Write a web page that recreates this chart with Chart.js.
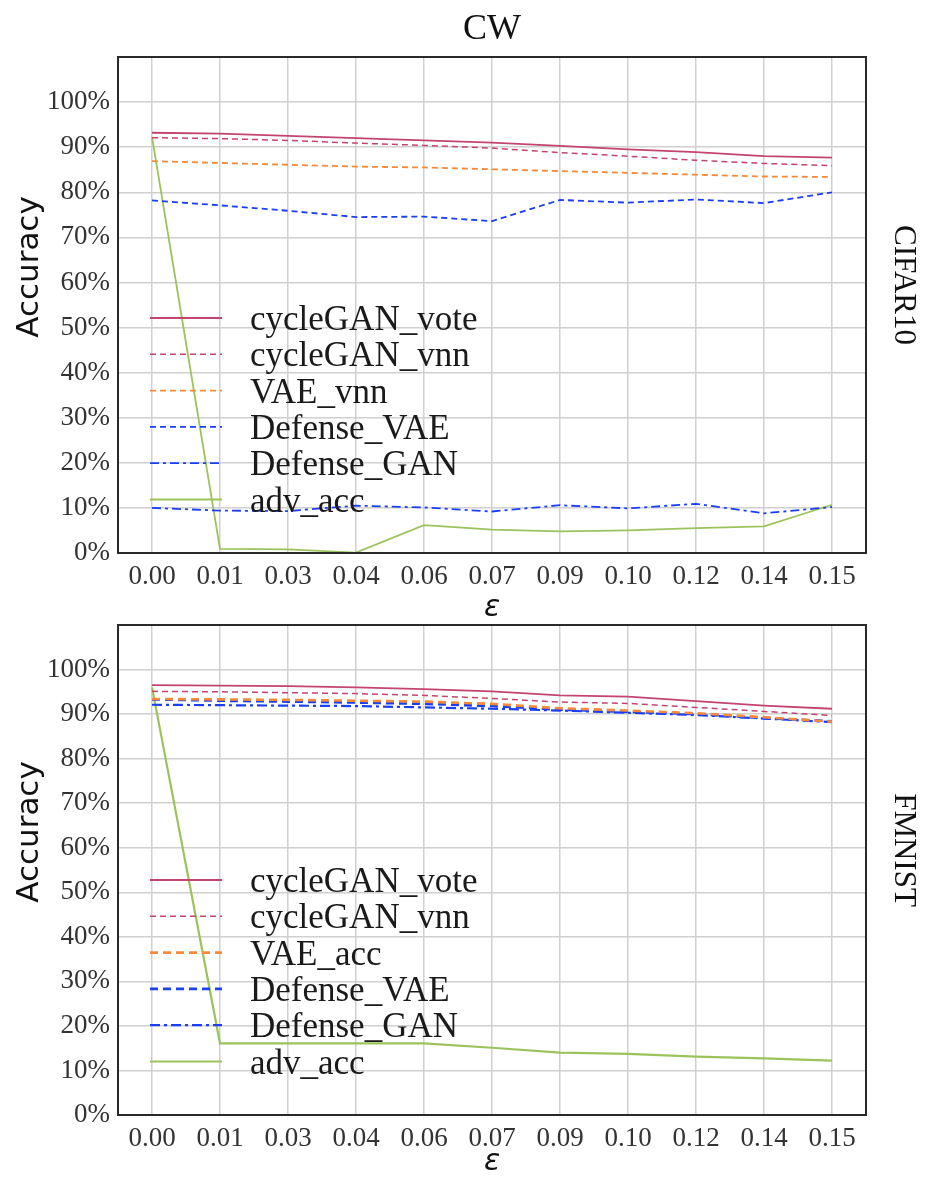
<!DOCTYPE html>
<html>
<head>
<meta charset="utf-8">
<script src="https://cdn.jsdelivr.net/npm/chart.js@4"></script>
<style>
html,body{margin:0;padding:0;background:#fff;}
#wrap{position:relative;width:925px;height:1182px;}
canvas{position:absolute;left:0;}
</style>
</head>
<body>
<div id="wrap">
<canvas id="c1" width="925" height="620" style="top:0px"></canvas>
<canvas id="c2" width="925" height="574" style="top:600px"></canvas>
</div>
<script>
const epsLabels = ['0.00','0.01','0.03','0.04','0.06','0.07','0.09','0.10','0.12','0.14','0.15'];
const yTickMax = 100;

// CIFAR10 (CW)
const cifarVote   = [93.2, 93.0, 92.5, 92.0, 91.5, 91.0, 90.3, 89.5, 88.9, 88.0, 87.7];
const cifarVnn    = [92.1, 91.9, 91.5, 90.9, 90.4, 89.8, 88.8, 88.0, 87.1, 86.4, 85.9];
const cifarVAE    = [86.9, 86.5, 86.1, 85.7, 85.5, 85.1, 84.7, 84.3, 83.9, 83.5, 83.4];
const cifarDefVAE = [78.2, 77.1, 75.9, 74.5, 74.6, 73.6, 78.3, 77.7, 78.4, 77.6, 80.0];
const cifarDefGAN = [10.0, 9.4, 9.3, 10.5, 10.1, 9.2, 10.6, 9.9, 10.9, 8.8, 10.2];
const cifarAdv    = [92.3, 0.9, 0.8, 0.1, 6.2, 5.2, 4.8, 5.0, 5.5, 5.9, 10.7];

// FMNIST (CW)
const fmVote   = [96.5, 96.4, 96.3, 96.0, 95.6, 95.1, 94.2, 93.9, 92.9, 91.9, 91.2];
const fmVnn    = [95.1, 95.0, 94.8, 94.6, 94.2, 93.5, 92.7, 92.4, 91.5, 90.6, 89.7];
const fmVAE    = [93.4, 93.3, 93.2, 93.0, 92.8, 92.3, 91.3, 90.8, 90.2, 89.3, 88.3];
const fmDefVAE = [93.3, 93.0, 92.8, 92.6, 92.3, 91.8, 91.0, 90.5, 90.0, 89.1, 88.4];
const fmDefGAN = [92.1, 92.0, 91.9, 91.8, 91.5, 91.2, 90.8, 90.3, 89.8, 89.0, 88.2];
const fmAdv    = [96.0, 16.1, 16.1, 16.1, 16.1, 15.1, 14.0, 13.7, 13.1, 12.7, 12.2];

const C_RED = '#c2456f', C_ORA = '#f58a3a', C_BLUE = '#1b3ff5', C_GRN = '#9cc35b';
const SERIF = "'Liberation Serif', 'Times New Roman', serif";
const SANS = "'DejaVu Sans', sans-serif";

function ds(label, data, color, dash, width) {
  return {label, data, borderColor: color, backgroundColor: color, borderDash: dash,
    borderWidth: width, pointRadius: 0, tension: 0, fill: false};
}

const frameLegend = {
  id: 'frameLegend',
  afterDatasetsDraw(chart, args, opts) {
    const ctx = chart.ctx, a = chart.chartArea;
    const midY = (a.top + a.bottom) / 2;
    ctx.save();
    // legend
    ctx.font = '35px ' + SERIF;
    ctx.textBaseline = 'middle';
    ctx.fillStyle = '#1a1a1a';
    chart.data.datasets.forEach((d, i) => {
      const y = a.bottom - 235 + i * 36.3;
      ctx.beginPath();
      ctx.strokeStyle = d.borderColor;
      ctx.lineWidth = d.borderWidth;
      ctx.setLineDash(d.borderDash || []);
      ctx.moveTo(a.left + 32, y);
      ctx.lineTo(a.left + 104, y);
      ctx.stroke();
      ctx.setLineDash([]);
      ctx.fillText(d.label, a.left + 132, y + 3);
    });
    // frame
    ctx.strokeStyle = '#2a2a2a';
    ctx.lineWidth = 2;
    ctx.strokeRect(a.left, a.top, a.right - a.left, a.bottom - a.top);
    ctx.restore();
    // y-axis label
    ctx.save();
    ctx.font = '31px ' + SANS;
    ctx.fillStyle = '#111';
    ctx.textAlign = 'center';
    ctx.textBaseline = 'middle';
    ctx.translate(30, midY - 38);
    ctx.rotate(-Math.PI / 2);
    ctx.fillText('Accuracy', 0, 0);
    ctx.restore();
    // panel label on the right
    ctx.save();
    ctx.font = '31px ' + SERIF;
    ctx.fillStyle = '#111';
    ctx.textAlign = 'center';
    ctx.textBaseline = 'middle';
    ctx.translate(903, midY - 20);
    ctx.rotate(Math.PI / 2);
    ctx.fillText(opts.side, 0, 0);
    ctx.restore();
    if (opts.title) {
      ctx.save();
      ctx.font = '36px ' + SERIF;
      ctx.fillStyle = '#111';
      ctx.textAlign = 'center';
      ctx.textBaseline = 'middle';
      ctx.fillText(opts.title, (a.left + a.right) / 2, 30);
      ctx.restore();
    }
  }
};

function makeChart(id, datasets, padTop, xHeight, side, title) {
  return new Chart(document.getElementById(id), {
    type: 'line',
    data: {labels: epsLabels, datasets},
    options: {
      responsive: false, animation: false,
      layout: {padding: {left: 0, right: 59, top: padTop, bottom: 0}},
      plugins: {legend: {display: false}, tooltip: {enabled: false},
        frameLegend: {side, title}},
      scales: {
        x: {
          type: 'category', offset: true,
          grid: {offset: false, color: '#d0d0d0', lineWidth: 1.5, drawTicks: false},
          border: {display: false},
          ticks: {color: '#333', padding: 8, font: {family: SERIF, size: 27}, maxRotation: 0, autoSkip: false},
          title: {display: true, text: 'ε', color: '#111', padding: {top: 0, bottom: 0},
            font: {family: SANS, size: 30, style: 'italic', lineHeight: 0.8}},
          afterFit(s) { s.height = xHeight; }
        },
        y: {
          min: 0, max: 110,
          grid: {color: '#d0d0d0', lineWidth: 1.5, drawTicks: false},
          border: {display: false},
          ticks: {stepSize: 10, color: '#333', padding: 8, font: {family: SERIF, size: 27},
            callback: v => v <= yTickMax ? v + '%' : ''},
          title: {display: false},
          afterFit(s) { s.width = 118; }
        }
      }
    },
    plugins: [frameLegend]
  });
}

makeChart('c1', [
  ds('cycleGAN_vote', cifarVote, C_RED, [], 1.8),
  ds('cycleGAN_vnn', cifarVnn, C_RED, [6, 4], 1.5),
  ds('VAE_vnn', cifarVAE, C_ORA, [6, 4], 1.8),
  ds('Defense_VAE', cifarDefVAE, C_BLUE, [6, 4], 1.8),
  ds('Defense_GAN', cifarDefGAN, C_BLUE, [9, 4, 3, 4], 1.8),
  ds('adv_acc', cifarAdv, C_GRN, [], 1.8)
], 57, 67, 'CIFAR10', 'CW');

makeChart('c2', [
  ds('cycleGAN_vote', fmVote, C_RED, [], 1.8),
  ds('cycleGAN_vnn', fmVnn, C_RED, [6, 4], 1.5),
  ds('VAE_acc', fmVAE, C_ORA, [8, 5], 2.6),
  ds('Defense_VAE', fmDefVAE, C_BLUE, [8, 5], 2.6),
  ds('Defense_GAN', fmDefGAN, C_BLUE, [10, 4, 3, 4], 2.2),
  ds('adv_acc', fmAdv, C_GRN, [], 2.2)
], 25, 59, 'FMNIST', null);
</script>
</body>
</html>
